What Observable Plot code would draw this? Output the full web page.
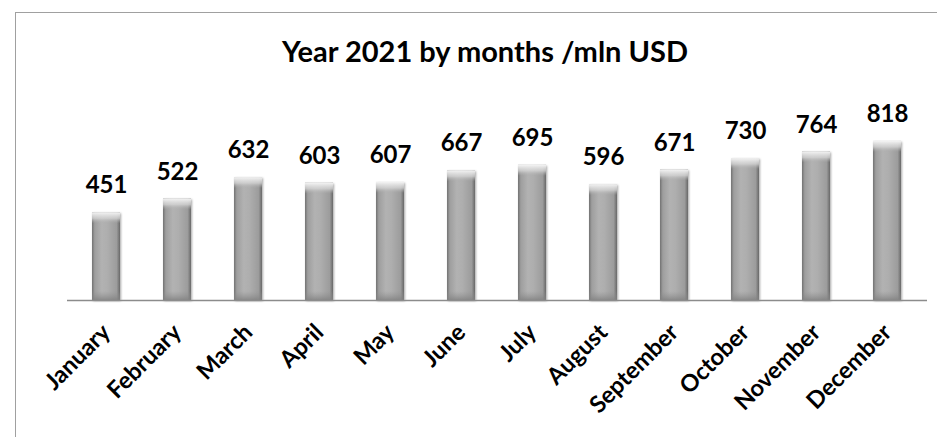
<!DOCTYPE html>
<html>
<head>
<meta charset="utf-8">
<script src="https://cdn.jsdelivr.net/npm/d3@7"></script>
<script src="https://cdn.jsdelivr.net/npm/@observablehq/plot@0.6"></script>
<style>
  html, body { margin: 0; padding: 0; background: #fff; }
  #wrap { position: relative; width: 937px; height: 437px; overflow: hidden; background: #fff; }
  #frame { position: absolute; left: 15px; top: 12px; width: 1000px; height: 1000px; border-left: 1.5px solid #a0a0a0; border-top: 1.5px solid #a0a0a0; box-sizing: border-box; }
  #title { position: absolute; left: 15px; width: 940px; top: 34px; line-height: 34px; text-align: center;
           font-family: Lato, "Open Sans", sans-serif; font-weight: bold; font-size: 29px; color: #000; }
  #chart { position: absolute; left: 0; top: 0; }
</style>
</head>
<body>
<div id="wrap">
  <div id="frame"></div>
  <div id="title">Year 2021 by months /mln USD</div>
  <div id="chart"></div>
</div>
<script>
const months = ["January","February","March","April","May","June","July","August","September","October","November","December"];
const values = [451, 522, 632, 603, 607, 667, 695, 596, 671, 730, 764, 818];

const data = months.map((m, i) => ({month: m, value: values[i]}));

const plot = Plot.plot({
  width: 937,
  height: 437,
  marginLeft: 67,
  marginRight: 10,
  marginTop: 125,
  marginBottom: 137,
  style: {background: "transparent", fontFamily: "Lato, 'Open Sans', sans-serif"},
  x: {domain: months, paddingInner: 0.6, paddingOuter: 0.3, label: null},
  y: {domain: [0, 900], axis: null},
  marks: [
    Plot.barY(data, {x: "month", y: "value", fill: "url(#barGrad)"}),
    Plot.barY(data, {x: "month", y1: "value", y2: "value", insetBottom: -11, fill: "url(#topGrad)"}),
    Plot.barY(data, {x: "month", y1: 0, y2: 0, insetTop: -9, fill: "url(#botGrad)"}),
    Plot.ruleY([0], {stroke: "#8c8c8c", strokeWidth: 1.5}),
    Plot.text(data, {x: "month", y: "value", text: d => String(d.value), dy: -27, fontSize: 24, fontWeight: "bold", fill: "#000"}),
    Plot.axisX({tickSize: 0, tickRotate: -45, tickPadding: 28, fontSize: 23.5, fontWeight: "bold", fill: "#000", label: null})
  ]
});

const svg = d3.select(plot);
const defs = svg.insert("defs", ":first-child");
const g1 = defs.append("linearGradient").attr("id", "barGrad").attr("x1", "0").attr("x2", "1").attr("y1", "0").attr("y2", "0");
[["0%", "#727272"], ["10%", "#9e9e9e"], ["35%", "#b2b2b2"], ["55%", "#aeaeae"], ["88%", "#9c9c9c"], ["100%", "#686868"]]
  .forEach(([o, c]) => g1.append("stop").attr("offset", o).attr("stop-color", c));
const g2 = defs.append("linearGradient").attr("id", "topGrad").attr("x1", "0").attr("x2", "0").attr("y1", "0").attr("y2", "1");
[["0%", "#f4f4f4", 1], ["55%", "#d6d6d6", 0.75], ["100%", "#b0b0b0", 0]]
  .forEach(([o, c, a]) => g2.append("stop").attr("offset", o).attr("stop-color", c).attr("stop-opacity", a));
const g3 = defs.append("linearGradient").attr("id", "botGrad").attr("x1", "0").attr("x2", "0").attr("y1", "0").attr("y2", "1");
[["0%", "#909090", 0], ["100%", "#808080", 0.8]]
  .forEach(([o, c, a]) => g3.append("stop").attr("offset", o).attr("stop-color", c).attr("stop-opacity", a));
svg.select('g[aria-label="bar"]').style("filter", "drop-shadow(1.5px 1.5px 1px rgba(0,0,0,0.35))");

document.getElementById("chart").appendChild(plot);
</script>
</body>
</html>
